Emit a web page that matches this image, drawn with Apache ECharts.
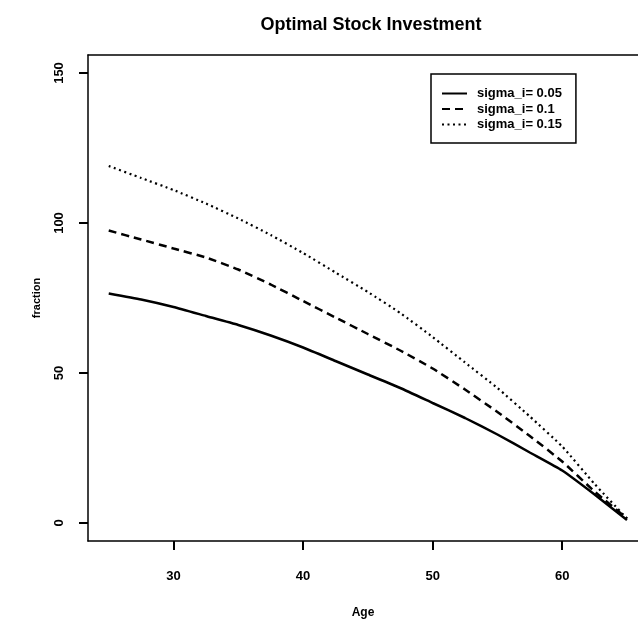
<!DOCTYPE html>
<html>
<head>
<meta charset="utf-8">
<script src="https://cdn.jsdelivr.net/npm/echarts@6/dist/echarts.min.js"></script>
<style>html,body{margin:0;padding:0;background:#fff;}#chart{width:638px;height:625px;}</style>
</head>
<body>
<div id="chart"></div>
<script>
var titleText = 'Optimal Stock Investment';
var xName = 'Age';
var yName = 'fraction';
var ages = [25, 27.5, 30, 32.5, 35, 37.5, 40, 42.5, 45, 47.5, 50, 52.5, 55, 57.5, 60, 62.5, 65];
var seriesNames = ['sigma_i= 0.05', 'sigma_i= 0.1', 'sigma_i= 0.15'];
var sigma005 = [76.5, 74.5, 72, 69, 66, 62.5, 58.5, 54, 49.5, 45, 40, 35, 29.5, 23.5, 17.5, 9.5, 1];
var sigma010 = [97.5, 94.5, 91.5, 88.5, 84.5, 79.5, 74, 68.5, 63, 57.5, 51.5, 44.5, 37, 29, 20.5, 10.5, 1.5];
var sigma015 = [119, 115, 111, 106.5, 101.5, 96, 90, 83.5, 77, 70, 62, 53.5, 45, 35.5, 25.5, 13, 1.5];
var xTicks = [30, 40, 50, 60];
var yTicks = [0, 50, 100, 150];

function pairs(vals) { return ages.map(function (a, i) { return [a, vals[i]]; }); }

var chart = echarts.init(document.getElementById('chart'), null, {renderer: 'canvas'});
var font = 'Liberation Sans, Arial, sans-serif';
var xMin = 23.4, xMax = 65.85;
var option = {
  animation: false,
  backgroundColor: '#fff',
  color: ['#000', '#000', '#000'],
  title: {
    text: titleText, left: 366, top: 11, textAlign: 'center',
    textStyle: {fontFamily: font, fontSize: 18, fontWeight: 'bold', color: '#000'}
  },
  legend: {
    orient: 'vertical', left: 431, top: 74,
    data: seriesNames,
    itemWidth: 25, itemHeight: 10, itemGap: 2.5,
    padding: [13, 14, 12, 10],
    borderColor: '#000', borderWidth: 1.5,
    itemStyle: {opacity: 0},
    textStyle: {fontFamily: font, fontSize: 13, fontWeight: 'bold', color: '#000', padding: [0, 0, 0, 5]}
  },
  grid: {left: 88, top: 55, right: 0, bottom: 84, show: false, containLabel: false},
  xAxis: [{
    type: 'value', min: xMin, max: xMax,
    name: xName, nameLocation: 'middle', nameGap: 66,
    nameTextStyle: {fontFamily: font, fontSize: 12, fontWeight: 'bold', color: '#000'},
    axisLine: {show: true, onZero: false, lineStyle: {color: '#000', width: 1.5}},
    axisTick: {show: true, length: 9, customValues: xTicks, lineStyle: {color: '#000', width: 2}},
    axisLabel: {customValues: xTicks, margin: 29, fontFamily: font, fontSize: 13, fontWeight: 'bold', color: '#000'},
    splitLine: {show: false}
  }, {
    type: 'value', position: 'top', min: xMin, max: xMax,
    axisLine: {show: true, onZero: false, lineStyle: {color: '#000', width: 1.5}},
    axisTick: {show: false}, axisLabel: {show: false}, splitLine: {show: false}
  }],
  yAxis: {
    type: 'value', min: -6, max: 156,
    name: yName, nameLocation: 'middle', nameGap: 46,
    nameTextStyle: {fontFamily: font, fontSize: 11, fontWeight: 'bold', color: '#000'},
    axisLine: {show: true, onZero: false, lineStyle: {color: '#000', width: 1.5}},
    axisTick: {show: true, length: 9, customValues: yTicks, lineStyle: {color: '#000', width: 2}},
    axisLabel: {customValues: yTicks, rotate: 90, margin: 22, fontFamily: font, fontSize: 13, fontWeight: 'bold', color: '#000'},
    splitLine: {show: false}
  },
  series: [
    {name: seriesNames[0], type: 'line', data: pairs(sigma005), symbol: 'none', smooth: 0.15,
     itemStyle: {color: '#000'}, lineStyle: {color: '#000', width: 2.5, type: 'solid'}},
    {name: seriesNames[1], type: 'line', data: pairs(sigma010), symbol: 'none', smooth: 0.15,
     itemStyle: {color: '#000'}, lineStyle: {color: '#000', width: 2.5, type: [8, 5]}},
    {name: seriesNames[2], type: 'line', data: pairs(sigma015), symbol: 'none', smooth: 0.15,
     itemStyle: {color: '#000'}, lineStyle: {color: '#000', width: 2.2, type: [2, 3.5]}}
  ]
};
chart.setOption(option);
</script>
</body>
</html>
